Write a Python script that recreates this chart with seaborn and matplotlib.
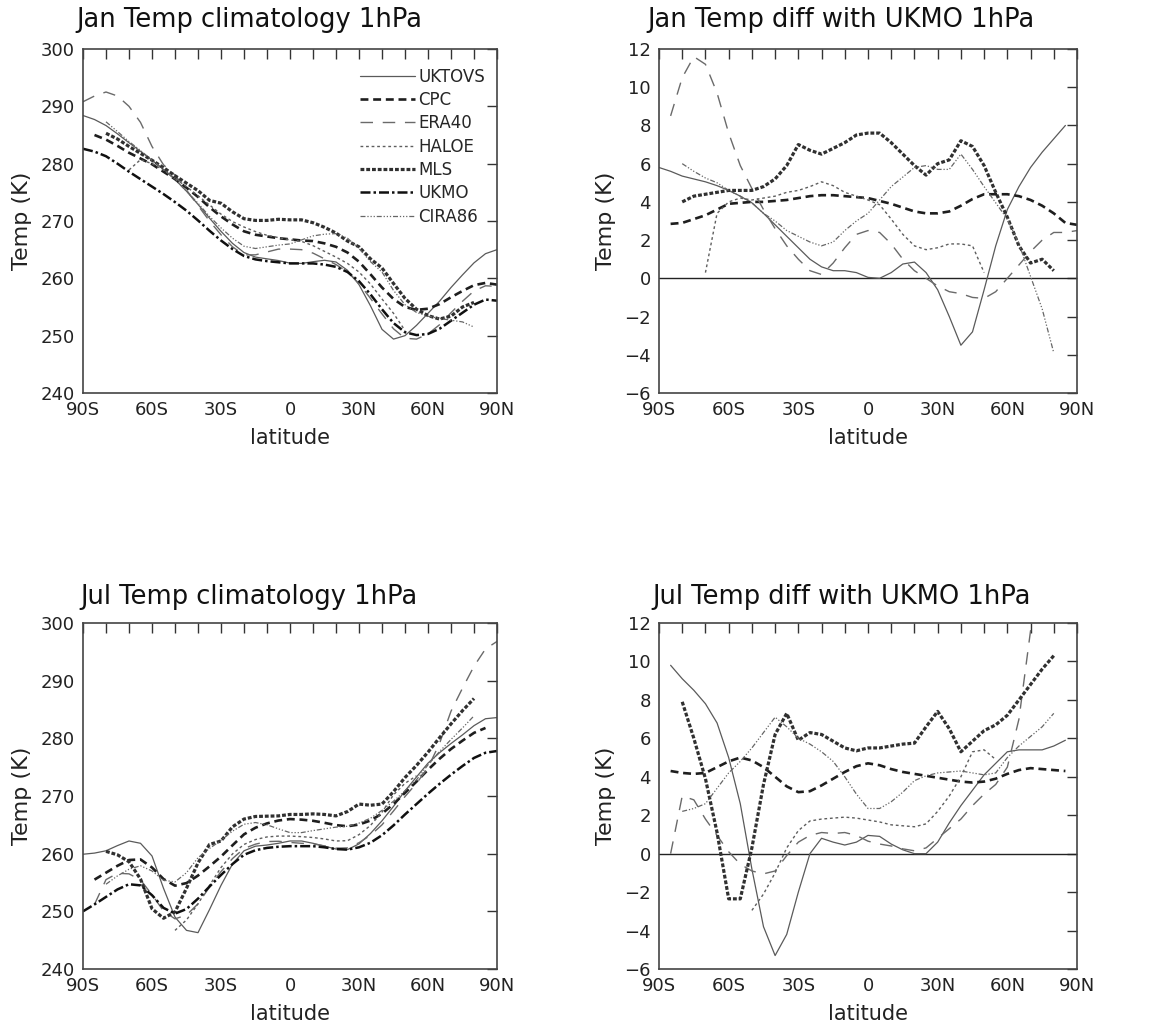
import numpy as np
import pandas as pd
import matplotlib
matplotlib.use("Agg")
import matplotlib.pyplot as plt
import seaborn as sns

# ---------------- data ----------------
lat = list(range(-90, 95, 5))
N = None

datasets = ["UKTOVS", "CPC", "ERA40", "HALOE", "MLS", "UKMO", "CIRA86"]
xtick_vals = [-90, -60, -30, 0, 30, 60, 90]
xtick_labels = ["90S", "60S", "30S", "0", "30N", "60N", "90N"]

panel_titles = ["Jan Temp climatology 1hPa", "Jan Temp diff with UKMO 1hPa",
                "Jul Temp climatology 1hPa", "Jul Temp diff with UKMO 1hPa"]

# ---- January climatology (K) ----
jan_clim_ukmo = [282.6, 282.1, 281.3, 280.0, 278.6, 277.3, 276.0, 274.7, 273.3, 271.8, 270.1, 268.3, 266.6, 265.1, 263.9, 263.3, 263.0, 262.8, 262.6,
                 262.6, 262.6, 262.4, 262.0, 261.1, 259.5, 257.2, 254.6, 252.2, 250.6, 250.1, 250.3, 251.2, 252.6, 254.0, 255.4, 256.3, 256.1]
jan_clim_uktovs = [288.4, 287.7, 286.65, 285.2, 283.65, 282.15, 280.6, 279.0, 277.25, 275.2, 272.9, 270.5, 268.2, 266.1, 264.5, 263.7, 263.4, 263.1, 262.65,
                   262.6, 262.9, 263.15, 262.85, 261.4, 258.9, 255.2, 251.1, 249.4, 250.0, 251.8, 253.9, 256.0, 258.4, 260.6, 262.7, 264.3, 265.0]
jan_clim_cpc = [N, 285.0, 284.2, 283.1, 281.9, 280.9, 279.9, 278.6, 277.3, 275.8, 274.2, 272.4, 270.8, 269.4, 268.2, 267.6, 267.3, 267.0, 266.8,
                266.6, 266.5, 266.1, 265.5, 264.5, 262.9, 260.7, 258.4, 256.4, 255.0, 254.5, 254.7, 255.5, 256.7, 257.8, 258.8, 259.2, 258.9]
jan_clim_era40 = [290.8, 291.8, 292.5, 291.8, 290.0, 287.2, 283.0, 279.8, 278.0, 275.4, 272.7, 270.0, 267.6, 265.5, 264.1, 264.1, 264.6, 265.1, 265.1,
                  265.0, 264.4, 263.4, 262.4, 261.1, 259.1, 256.5, 253.8, 251.2, 249.55, 249.4, 250.3, 251.9, 254.0, 256.0, 257.8, 258.7, 258.6]
jan_clim_haloe = [N, N, N, N, 278.9, 280.7, 280.0, 278.9, 277.4, 276.0, 274.4, 272.8, 271.2, 269.9, 268.95, 268.15, 267.5, 267.1, 266.7,
                  266.45, 265.7, 264.7, 263.7, 262.6, 261.1, 259.0, 256.4, 253.9, 250.9, N, N, N, N, N, N, N, N]
jan_clim_mls = [N, N, 285.3, 284.3, 283.0, 281.8, 280.6, 279.3, 277.9, 276.6, 275.3, 273.6, 273.1, 271.6, 270.4, 270.1, 270.1, 270.3, 270.2,
                270.2, 269.7, 268.9, 267.9, 266.5, 265.5, 263.4, 261.8, 259.1, 256.5, 254.6, 253.5, 252.9, 253.4, 255.0, 255.8, N, N]
jan_clim_cira86 = [N, N, 287.3, 285.6, 283.85, 282.3, 280.6, 279.0, 277.25, 275.2, 273.1, 270.8, 268.8, 267.0, 265.6, 265.2, 265.5, 265.8, 266.0,
                   266.7, 267.4, 267.7, 267.8, 267.0, 265.2, 262.9, 261.1, 257.9, 255.4, 254.05, 253.4, 253.0, 252.7, 252.4, 251.5, N, N]

# ---- January difference with UKMO (K) ----
jan_diff_uktovs = [5.8, 5.6, 5.35, 5.2, 5.05, 4.85, 4.6, 4.3, 3.95, 3.4, 2.8, 2.2, 1.6, 1.0, 0.6, 0.4, 0.4, 0.3, 0.05,
                   0.0, 0.3, 0.75, 0.85, 0.3, -0.6, -2.0, -3.5, -2.8, -0.6, 1.7, 3.6, 4.8, 5.8, 6.6, 7.3, 8.0, N]
jan_diff_cpc = [N, 2.85, 2.9, 3.1, 3.3, 3.6, 3.9, 3.95, 4.0, 4.0, 4.05, 4.1, 4.2, 4.3, 4.35, 4.35, 4.3, 4.25, 4.2,
                4.05, 3.9, 3.7, 3.5, 3.4, 3.4, 3.5, 3.8, 4.15, 4.4, 4.4, 4.4, 4.3, 4.1, 3.8, 3.4, 2.9, 2.8]
jan_diff_era40 = [N, 8.5, 10.5, 11.6, 11.2, 9.7, 7.6, 5.9, 4.7, 3.6, 2.6, 1.7, 1.0, 0.4, 0.2, 0.8, 1.6, 2.3, 2.5,
                  2.4, 1.8, 1.0, 0.4, 0.0, -0.4, -0.7, -0.8, -1.0, -1.05, -0.7, 0.0, 0.7, 1.4, 2.0, 2.4, 2.4, 2.5]
jan_diff_haloe = [N, N, N, N, 0.3, 3.4, 4.0, 4.2, 4.1, 4.2, 4.3, 4.5, 4.6, 4.8, 5.05, 4.85, 4.5, 4.3, 4.1,
                  3.85, 3.1, 2.3, 1.7, 1.5, 1.6, 1.8, 1.8, 1.7, 0.3, N, N, N, N, N, N, N, N]
jan_diff_mls = [N, N, 4.0, 4.3, 4.4, 4.5, 4.6, 4.6, 4.6, 4.8, 5.2, 5.9, 7.0, 6.7, 6.5, 6.8, 7.1, 7.5, 7.6,
                7.6, 7.1, 6.5, 5.9, 5.4, 6.0, 6.2, 7.2, 6.9, 5.9, 4.5, 3.2, 1.7, 0.8, 1.0, 0.4, N, N]
jan_diff_cira86 = [N, N, 6.0, 5.6, 5.25, 5.0, 4.6, 4.3, 3.95, 3.4, 3.0, 2.5, 2.2, 1.9, 1.7, 1.9, 2.5, 3.0, 3.4,
                   4.1, 4.8, 5.3, 5.8, 5.9, 5.7, 5.7, 6.5, 5.7, 4.8, 3.95, 3.1, 1.8, 0.1, -1.6, -3.9, N, N]

# ---- July climatology (K) ----
jul_clim_ukmo = [250.0, 251.2, 252.5, 253.8, 254.7, 254.5, 252.8, 250.6, 249.6, 250.4, 252.2, 254.3, 256.3, 258.2, 259.8, 260.6, 261.0, 261.2, 261.3,
                 261.3, 261.3, 261.1, 260.8, 260.7, 261.1, 261.9, 263.2, 264.9, 266.8, 268.6, 270.4, 272.1, 273.7, 275.2, 276.6, 277.5, 277.8]
jul_clim_uktovs = [259.9, 260.1, 260.5, 261.4, 262.2, 261.8, 259.6, 254.0, 249.0, 246.7, 246.3, 250.3, 254.5, 258.2, 260.5, 261.3, 261.5, 261.8, 262.2,
                   262.2, 261.8, 261.3, 260.8, 260.7, 261.7, 263.5, 265.7, 268.2, 270.9, 273.3, 275.7, 277.5, 279.1, 280.6, 282.2, 283.4, 283.6]
jul_clim_cpc = [N, 255.5, 256.7, 257.9, 258.9, 259.0, 257.6, 255.6, 254.45, 254.9, 256.2, 257.8, 259.5, 261.45, 263.35, 264.5, 265.25, 265.75, 266.0,
                265.9, 265.7, 265.35, 264.95, 264.75, 265.05, 265.75, 266.95, 268.6, 270.55, 272.5, 274.55, 276.45, 278.15, 279.6, 280.95, 281.8, N]
jul_clim_era40 = [N, 251.2, 255.5, 256.6, 256.5, 255.45, 252.9, 250.05, 248.7, 249.35, 251.3, 254.2, 256.9, 259.15, 260.9, 261.65, 262.1, 262.15, 261.95,
                  261.8, 261.7, 261.35, 260.95, 261.0, 261.9, 263.2, 265.0, 267.4, 269.9, 272.2, 274.9, 279.1, 284.7, 288.7, 292.5, 295.5, 296.8]
jul_clim_haloe = [N, N, N, N, N, N, N, N, 246.7, 248.5, 251.3, 254.5, 257.6, 259.95, 261.6, 262.45, 262.9, 263.05, 263.05,
                  262.95, 262.8, 262.55, 262.2, 262.25, 263.3, 264.9, 267.2, 270.2, 272.2, 273.5, N, N, N, N, N, N, N]
jul_clim_mls = [N, N, 260.4, 259.8, 258.6, 255.6, 250.45, 248.8, 249.9, 254.0, 258.4, 261.6, 262.2, 264.65, 266.0, 266.45, 266.5, 266.55, 266.8,
                266.8, 266.9, 266.8, 266.55, 267.3, 268.6, 268.4, 268.6, 270.75, 273.2, 275.3, 277.6, 280.1, 282.5, 284.8, 286.9, N, N]
jul_clim_cira86 = [N, N, 254.7, 256.15, 257.3, 257.9, 257.0, 255.4, 255.1, 256.7, 259.3, 260.9, 262.3, 263.9, 265.1, 265.4, 265.0, 264.3, 263.65,
                   263.65, 264.0, 264.3, 264.6, 264.75, 265.3, 266.15, 267.5, 269.1, 270.9, 272.8, 275.4, 277.7, 279.8, 281.8, 283.9, N, N]

# ---- July difference with UKMO (K) ----
jul_diff_uktovs = [N, 9.8, 9.1, 8.5, 7.8, 6.8, 5.0, 2.6, -0.8, -3.8, -5.3, -4.2, -2.0, 0.0, 0.8, 0.6, 0.45, 0.6, 0.95,
                   0.9, 0.5, 0.2, 0.0, 0.0, 0.6, 1.6, 2.5, 3.3, 4.1, 4.7, 5.3, 5.4, 5.4, 5.4, 5.6, 5.9, N]
jul_diff_cpc = [N, 4.3, 4.2, 4.15, 4.2, 4.5, 4.8, 5.0, 4.85, 4.5, 4.0, 3.5, 3.2, 3.25, 3.55, 3.9, 4.25, 4.55, 4.7,
                4.6, 4.4, 4.25, 4.15, 4.05, 3.95, 3.85, 3.75, 3.7, 3.75, 3.9, 4.15, 4.35, 4.45, 4.4, 4.35, 4.3, N]
jul_diff_era40 = [N, 0.0, 3.0, 2.8, 1.8, 0.95, 0.1, -0.55, -0.9, -1.05, -0.9, -0.1, 0.6, 0.95, 1.1, 1.05, 1.1, 0.95, 0.65,
                  0.5, 0.4, 0.25, 0.15, 0.3, 0.8, 1.3, 1.8, 2.5, 3.1, 3.6, 4.5, 7.0, 11.6, 13.5, N, N, N]
jul_diff_haloe = [N, N, N, N, N, N, N, N, -2.95, -2.1, -1.0, 0.3, 1.2, 1.7, 1.8, 1.85, 1.9, 1.85, 1.75,
                  1.65, 1.5, 1.45, 1.4, 1.55, 2.2, 3.0, 4.0, 5.3, 5.4, 4.9, N, N, N, N, N, N, N]
jul_diff_mls = [N, N, 7.9, 6.0, 3.9, 1.1, -2.35, -2.35, 0.3, 3.6, 6.2, 7.3, 5.9, 6.3, 6.2, 5.85, 5.5, 5.35, 5.5,
                5.5, 5.6, 5.7, 5.75, 6.6, 7.4, 6.5, 5.3, 5.85, 6.4, 6.7, 7.2, 8.0, 8.8, 9.6, 10.3, N, N]
jul_diff_cira86 = [N, N, 2.2, 2.35, 2.6, 3.4, 4.2, 4.8, 5.5, 6.3, 7.1, 6.6, 6.0, 5.7, 5.3, 4.8, 4.0, 3.1, 2.35,
                   2.35, 2.7, 3.2, 3.8, 4.05, 4.2, 4.25, 4.3, 4.2, 4.1, 4.2, 5.0, 5.6, 6.1, 6.6, 7.3, N, N]

panels = [
    {"UKTOVS": jan_clim_uktovs, "CPC": jan_clim_cpc, "ERA40": jan_clim_era40, "HALOE": jan_clim_haloe,
     "MLS": jan_clim_mls, "UKMO": jan_clim_ukmo, "CIRA86": jan_clim_cira86},
    {"UKTOVS": jan_diff_uktovs, "CPC": jan_diff_cpc, "ERA40": jan_diff_era40, "HALOE": jan_diff_haloe,
     "MLS": jan_diff_mls, "CIRA86": jan_diff_cira86},
    {"UKTOVS": jul_clim_uktovs, "CPC": jul_clim_cpc, "ERA40": jul_clim_era40, "HALOE": jul_clim_haloe,
     "MLS": jul_clim_mls, "UKMO": jul_clim_ukmo, "CIRA86": jul_clim_cira86},
    {"UKTOVS": jul_diff_uktovs, "CPC": jul_diff_cpc, "ERA40": jul_diff_era40, "HALOE": jul_diff_haloe,
     "MLS": jul_diff_mls, "CIRA86": jul_diff_cira86},
]

# ---------------- styles ----------------
palette = {"UKTOVS": "#5a5a5a", "CPC": "#1e1e1e", "ERA40": "#6a6a6a", "HALOE": "#5e5e5e",
           "MLS": "#303030", "UKMO": "#101010", "CIRA86": "#666666"}
widths = {"UKTOVS": 0.9, "CPC": 1.9, "ERA40": 1.0, "HALOE": 1.0, "MLS": 2.3, "UKMO": 1.8, "CIRA86": 0.9}
dash_map = {"UKTOVS": "", "CPC": (3, 1.8), "ERA40": (9, 7), "HALOE": (2, 2),
            "MLS": (1.2, 0.6), "UKMO": (4, 1.2, 1, 1.2), "CIRA86": (4, 1.5, 1, 1.5, 1, 1.5, 1, 1.5)}

sns.set_theme(style="white")
plt.rcParams["font.family"] = ["DejaVu Sans"]
plt.rcParams["axes.edgecolor"] = "#444444"
plt.rcParams["axes.linewidth"] = 1.2

fig = plt.figure(figsize=(11.55, 10.30), dpi=100)
W, H = 1155, 1030
boxes = [(83, 49, 497, 393), (659, 49, 1077, 393), (83, 623, 497, 969), (659, 623, 1077, 969)]
title_pos = [(76, 20), (647, 20), (80, 597), (652, 597)]

for i, (box, data) in enumerate(zip(boxes, panels)):
    x0, y0, x1, y1 = box
    ax = fig.add_axes([x0 / W, 1 - y1 / H, (x1 - x0) / W, (y1 - y0) / H])
    rows = []
    for name in datasets:
        if name not in data:
            continue
        for la, v in zip(lat, data[name]):
            if v is not None:
                rows.append((name, la, v))
    df = pd.DataFrame(rows, columns=["dataset", "lat", "val"])
    order = [d for d in datasets if d in data]
    is_diff = (i % 2 == 1)
    if is_diff:
        ax.axhline(0, color="#222222", lw=1.0, zorder=1)
    sns.lineplot(data=df, x="lat", y="val", hue="dataset", style="dataset", size="dataset",
                 hue_order=order, style_order=order, size_order=order,
                 palette={k: palette[k] for k in order}, dashes={k: dash_map[k] for k in order},
                 sizes={k: widths[k] for k in order}, estimator=None, sort=True,
                 legend=(i == 0), ax=ax)
    ax.set_xlim(-90, 90)
    if is_diff:
        ax.set_ylim(-6, 12)
        ax.set_yticks(np.arange(-6, 13, 2))
    else:
        ax.set_ylim(240, 300)
        ax.set_yticks(np.arange(240, 301, 10))
    ax.set_xticks(xtick_vals)
    ax.set_xticklabels(xtick_labels)
    ax.set_xticks(np.arange(-90, 91, 10), minor=True)
    ax.tick_params(which="both", direction="in", top=True, right=True, length=7, width=1.0,
                   color="#333333", labelsize=13, labelcolor="#222222", pad=6)
    ax.set_xlabel("latitude", fontsize=15, color="#222222", labelpad=6)
    ax.set_ylabel("Temp (K)", fontsize=16, color="#222222", labelpad=6)
    for sp in ax.spines.values():
        sp.set_visible(True)
    fig.text(title_pos[i][0] / W, 1 - title_pos[i][1] / H, panel_titles[i],
             fontsize=18.5, color="#111111", ha="left", va="center")
    if i == 0:
        sns.move_legend(ax, "upper right", bbox_to_anchor=(0.995, 0.975), frameon=False, title=None,
                        fontsize=12, handlelength=3.3, handletextpad=0.2, labelspacing=0.32,
                        borderaxespad=0.2)

fig.savefig("out.png", dpi=100)
